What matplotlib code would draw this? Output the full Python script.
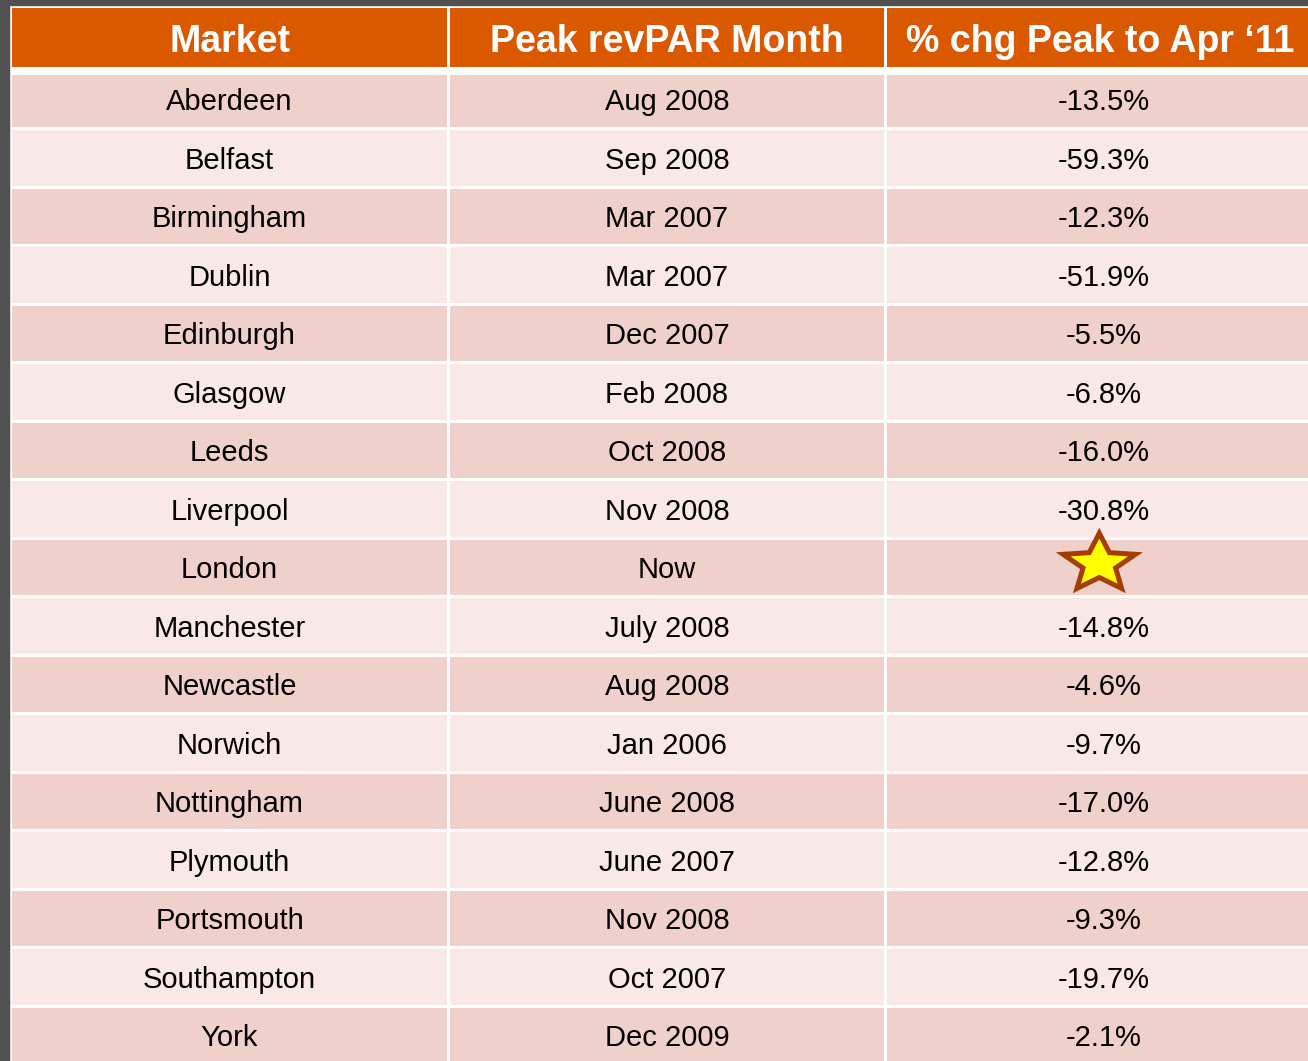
import numpy as np
import matplotlib.pyplot as plt
from matplotlib.patches import Rectangle, Polygon

# table contents
headers = ["Market", "Peak revPAR Month", "% chg Peak to Apr \u201811"]
markets = ["Aberdeen", "Belfast", "Birmingham", "Dublin", "Edinburgh", "Glasgow",
           "Leeds", "Liverpool", "London", "Manchester", "Newcastle", "Norwich",
           "Nottingham", "Plymouth", "Portsmouth", "Southampton", "York"]
peak_months = ["Aug 2008", "Sep 2008", "Mar 2007", "Mar 2007", "Dec 2007", "Feb 2008",
               "Oct 2008", "Nov 2008", "Now", "July 2008", "Aug 2008", "Jan 2006",
               "June 2008", "June 2007", "Nov 2008", "Oct 2007", "Dec 2009"]
pct_change = [-13.5, -59.3, -12.3, -51.9, -5.5, -6.8, -16.0, -30.8, None, -14.8,
              -4.6, -9.7, -17.0, -12.8, -9.3, -19.7, -2.1]

W, H = 1308, 1061
fig = plt.figure(figsize=(W / 100, H / 100), dpi=100, facecolor="#505050")
ax = fig.add_axes([0, 0, 1, 1])
ax.set_xlim(0, W)
ax.set_ylim(H, 0)
ax.axis("off")

font = ["Liberation Sans", "DejaVu Sans"]
orange = "#DA5900"
dark_row = "#F0D0CB"
light_row = "#F8E9E6"


def star(cx, cy, rx, ry, inner=0.45):
    # five-point star, stretched like the office shape
    ang = np.pi / 2 + np.arange(10) * np.pi / 5
    r = np.where(np.arange(10) % 2 == 0, 1.0, inner)
    return np.column_stack([cx + rx * r * np.cos(ang), cy - ry * r * np.sin(ang)])


# white frame behind the cells
ax.add_patch(Rectangle((9.5, 5.5), W, H, facecolor="#D8D8D8", edgecolor="none"))
ax.add_patch(Rectangle((10.5, 6.5), W, H, facecolor="white", edgecolor="none"))

cols = [(12, 447), (450, 884), (887, W + 5)]
header_top, header_bot = 8, 67
pitch = 58.5
first_top = 71.5

for (x0, x1), h in zip(cols, headers):
    ax.add_patch(Rectangle((x0, header_top), x1 - x0, header_bot - header_top,
                           facecolor=orange, edgecolor="none"))
    ax.text((x0 + x1) / 2, (header_top + header_bot) / 2 + 4.5, h, ha="center",
            va="center", color="white", fontsize=27, fontweight="bold", family=font)

for i, (m, pm, pc) in enumerate(zip(markets, peak_months, pct_change)):
    top = first_top + i * pitch
    bot = top + pitch - 3
    cy = top + (pitch - 3) / 2
    if i == 0:
        top = 75
    color = dark_row if i % 2 == 0 else light_row
    for x0, x1 in cols:
        ax.add_patch(Rectangle((x0, top), x1 - x0, bot - top, facecolor=color,
                               edgecolor="none"))
    ax.text(sum(cols[0]) / 2, cy + 3, m, ha="center", va="center",
            fontsize=21, family=font, color="black")
    ax.text(sum(cols[1]) / 2, cy + 3, pm, ha="center", va="center",
            fontsize=21, family=font, color="black")
    if pc is None:
        ax.add_patch(Polygon(star(1099.3, cy - 3.5, 38, 30.5), closed=True,
                             facecolor="#FFFF00", edgecolor="#A33E00",
                             linewidth=3.6, joinstyle="miter"))
    else:
        ax.text(1104, cy + 3, f"{pc:.1f}%", ha="center", va="center",
                fontsize=21, family=font, color="black")

fig.savefig("out.png", dpi=100, facecolor=fig.get_facecolor())
